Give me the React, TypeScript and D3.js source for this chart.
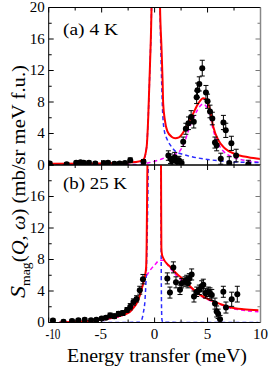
import React from "react";
import * as d3 from "d3";

// ---------- data ----------
type P = [number, number];
type D = [number, number, number];

const xTicks = [-10, -5, 0, 5, 10];
const yTicks = [0, 4, 8, 12, 16, 20];

// panel (a) 4 K data: [E, S, err]
const dataA: D[] = [
  [-9.9, 0.2, 0.2], [-8.3, 0.1, 0.2], [-7.4, 0.3, 0.2], [-7.0, 0.35, 0.2], [-6.7, 0.3, 0.2],
  [-6.2, 0.3, 0.2], [-5.6, 0.2, 0.2], [-4.8, 0.25, 0.2], [-4.4, 0.3, 0.2], [-3.8, 0.15, 0.2],
  [-3.3, 0.2, 0.2], [-2.8, 0.25, 0.2], [-2.3, 0.6, 0.3], [-1.05, 0.4, 0.3],
  [1.3, 1.2, 0.6], [1.5, 0.8, 0.6], [1.65, 0.5, 0.5], [1.9, 1.0, 0.6], [2.1, 0.4, 0.5],
  [2.3, 0.6, 0.5], [2.55, 0.25, 0.4], [2.7, 2.95, 0.6], [2.95, 4.6, 0.7], [3.2, 5.3, 0.8],
  [3.45, 6.1, 0.8], [3.7, 5.5, 0.8], [3.97, 8.6, 0.8], [4.05, 9.5, 0.9], [4.22, 10.3, 0.9],
  [4.5, 12.3, 1.0], [4.85, 9.2, 0.9], [5.0, 8.1, 0.9], [5.23, 6.8, 0.8], [5.45, 5.9, 0.8],
  [5.7, 2.85, 0.7], [5.86, 2.5, 0.7], [6.25, 0.8, 0.7], [6.5, 5.4, 0.9], [6.72, 4.4, 0.9],
  [7.05, 0.25, 0.8], [7.25, 2.75, 0.9], [7.7, 1.2, 0.8], [8.85, 0.1, 0.5],
];

// panel (a) fitted curves
const redA: P[] = [
  [-10, 0.15], [-5, 0.2], [-2.3, 0.34], [-1.5, 0.45], [-1.07, 0.65], [-0.75, 2.3], [-0.6, 6.1],
  [-0.44, 12.5], [-0.28, 21], [0.1, 100], [0.5, 21], [0.66, 14.6], [0.76, 10.4], [0.81, 7.8],
  [0.97, 5.7], [1.2, 4.3], [1.6, 3.6], [1.95, 3.4], [2.3, 3.5], [2.87, 4.5], [3.3, 5.6],
  [3.65, 6.56], [4.13, 7.83], [4.6, 8.47], [4.92, 8.25], [5.23, 7.0], [5.54, 4.86],
  [6.01, 3.17], [6.65, 2.1], [7.59, 1.4], [8.85, 0.98], [10, 0.76],
];
const blueA: P[] = [
  [-10, 0.1], [-5, 0.15], [-2.3, 0.3], [-1.5, 0.4], [-1.07, 0.6], [-0.75, 2.3], [-0.6, 6.1],
  [-0.44, 12.5], [-0.28, 21], [0.1, 100], [0.5, 21], [0.62, 13], [0.75, 7], [0.9, 4.5],
  [1.2, 3.2], [1.5, 2.5], [2.0, 1.7], [2.56, 1.4], [3.5, 1.05], [4.76, 0.75], [6.33, 0.5],
  [8.2, 0.35], [10, 0.3],
];
const magA: P[] = [
  [-10, 0.0], [-2, 0.02], [-1.16, 0.1], [-0.5, 0.3], [0.4, 0.63], [1.3, 1.1], [2.0, 1.4],
  [2.4, 1.8], [2.8, 2.8], [3.18, 4.3], [3.6, 5.8], [3.97, 6.8], [4.3, 7.5], [4.6, 7.75],
  [4.85, 7.5], [5.07, 7.0], [5.3, 5.8], [5.54, 4.44], [5.85, 3.2], [6.17, 2.32], [6.6, 1.6],
  [7.28, 1.05], [8.0, 0.75], [8.85, 0.5], [10, 0.34],
];

// panel (b) 25 K data
const dataB: D[] = [
  [-9.6, 0.25, 0.2], [-8.6, 0.1, 0.2], [-7.8, 0.2, 0.2], [-7.2, 0.3, 0.2], [-6.6, 0.35, 0.2],
  [-6.0, 0.3, 0.2], [-5.5, 0.35, 0.2], [-5.0, 0.5, 0.2], [-4.6, 0.6, 0.2], [-4.2, 0.9, 0.3],
  [-3.8, 0.8, 0.3], [-3.4, 1.1, 0.3], [-3.0, 1.2, 0.3], [-2.6, 1.6, 0.3], [-2.3, 2.0, 0.4],
  [-2.0, 2.6, 0.4], [-1.7, 3.0, 0.4], [-1.4, 4.1, 0.5], [-1.1, 5.5, 0.6],
  [1.2, 5.6, 0.7], [1.45, 3.8, 0.7], [1.77, 7.0, 0.7], [2.02, 5.1, 0.7], [2.4, 4.15, 0.6],
  [2.56, 5.0, 0.6], [2.87, 5.2, 0.6], [3.03, 5.4, 0.6], [3.15, 5.0, 0.6], [3.28, 5.6, 0.6],
  [3.5, 6.1, 0.7], [3.72, 3.3, 0.7], [3.98, 3.9, 0.6], [4.22, 4.15, 0.6], [4.45, 4.6, 0.7],
  [4.6, 4.8, 0.7], [4.8, 3.7, 0.6], [5.07, 3.9, 0.6], [5.23, 3.7, 0.7], [5.4, 3.5, 0.7],
  [5.7, 2.4, 0.7], [5.86, 1.4, 0.7], [6.0, 1.1, 0.6], [6.18, 0.4, 0.5], [6.49, 3.9, 0.7],
  [6.74, 1.9, 0.7], [7.28, 2.95, 0.9], [7.81, 3.6, 1.0],
];

// panel (b) fitted curves
const redB: P[] = [
  [-9, 0], [-8, 0.05], [-7, 0.12], [-6.1, 0.23], [-5, 0.38], [-4.2, 0.54], [-3.5, 0.75],
  [-2.95, 0.96], [-2.32, 1.38], [-2.0, 1.85], [-1.69, 2.45], [-1.38, 3.5], [-1.07, 5.0],
  [-0.9, 6.0], [-0.8, 7.0], [-0.75, 10], [-0.69, 18.6], [-0.65, 22], [0, 100], [0.6, 22],
  [0.62, 15], [0.64, 9.5], [0.7, 8.6], [0.81, 8.19], [1.45, 7.1], [2.09, 6.2], [2.87, 5.3],
  [3.34, 4.6], [4.29, 3.5], [5.23, 2.87], [6.18, 2.36], [7.12, 1.94], [8.38, 1.68], [9.8, 1.55],
];
const blueB: P[] = [
  [-9, 0], [-1.4, 0.02], [-1.2, 0.4], [-1.07, 1.2], [-0.9, 3], [-0.75, 8], [-0.65, 15],
  [-0.58, 22], [0, 100], [0.57, 22], [0.6, 15], [0.63, 6], [0.66, 1.5], [0.7, 0.3],
  [0.8, 0.02], [9.8, 0],
];
const magB: P[] = [
  [-9, 0], [-6, 0.2], [-4.2, 0.5], [-3, 0.9], [-2.32, 1.4], [-1.85, 2.2], [-1.38, 3.6],
  [-0.91, 5.5], [-0.44, 6.6], [0, 7.3], [0.5, 7.9], [0.8, 7.9], [1.45, 6.9], [2.4, 5.5],
  [3.34, 4.5], [4.29, 3.45], [5.23, 2.8], [6.18, 2.3], [7.12, 1.85], [8.38, 1.55], [9.8, 1.35],
];

// ---------- layout ----------
const W = 270, H = 368;
const X0 = 48.7, X1 = 260.5;
const panels = [
  { id: "a", top: 7.5, bottom: 165, label: "(a) 4 K", labelW: 55, labelDy: 27.5, data: dataA, red: redA, blue: blueA, mag: magA },
  { id: "b", top: 165, bottom: 322.5, label: "(b) 25 K", labelW: 64, labelDy: 24, data: dataB, red: redB, blue: blueB, mag: magB },
];
const FONT = "Liberation Serif, Times New Roman, Times, serif";

export default function App() {
  const x = d3.scaleLinear().domain([-10, 10]).range([X0, X1]);
  const xMinor = d3.range(-10, 10.01, 2.5);
  const yMinor = d3.range(0, 20.01, 2);

  return (
    <svg width={W} height={H} style={{ position: "absolute", left: 0, top: 0, background: "#fff" }}>
      <defs>
        {panels.map((p) => (
          <clipPath id={"clip" + p.id} key={p.id}>
            <rect x={X0} y={p.top} width={X1 - X0} height={p.bottom - p.top} />
          </clipPath>
        ))}
      </defs>
      {panels.map((p) => {
        const y = d3.scaleLinear().domain([0, 20]).range([p.bottom, p.top]);
        const line = d3
          .line<P>()
          .x((d) => x(d[0]))
          .y((d) => y(d[1]))
          .curve(d3.curveMonotoneX);
        return (
          <g key={p.id}>
            <g clipPath={`url(#clip${p.id})`}>
              <path d={line(p.mag) || ""} fill="none" stroke="#ff00ff" strokeWidth={1.5} strokeDasharray="4,3" />
              <path d={line(p.blue) || ""} fill="none" stroke="#2b2bff" strokeWidth={1.5} strokeDasharray="4,3" />
              <path d={line(p.red) || ""} fill="none" stroke="#ff0000" strokeWidth={2} />
              {p.data.map((d, i) => {
                const cx = x(d[0]);
                const yt = y(d[1] + d[2]);
                const yb = y(d[1] - d[2]);
                return (
                  <g key={i} stroke="#000" strokeWidth={1}>
                    <line x1={cx} x2={cx} y1={yt} y2={yb} />
                    <line x1={cx - 2.5} x2={cx + 2.5} y1={yt} y2={yt} />
                    <line x1={cx - 2.5} x2={cx + 2.5} y1={yb} y2={yb} />
                    <circle cx={cx} cy={y(d[1])} r={3} fill="#000" stroke="none" />
                  </g>
                );
              })}
            </g>
            {/* ticks */}
            <g stroke="#000" strokeWidth={1}>
              {xMinor.map((t) => {
                const major = t % 5 === 0;
                const len = major ? 5 : 3;
                return (
                  <g key={t}>
                    <line x1={x(t)} x2={x(t)} y1={p.bottom} y2={p.bottom - len} />
                    <line x1={x(t)} x2={x(t)} y1={p.top} y2={p.top + len} />
                  </g>
                );
              })}
              {yMinor.map((t) => {
                const major = t % 4 === 0;
                const len = major ? 5 : 3;
                return (
                  <g key={t}>
                    <line x1={X0} x2={X0 + len} y1={y(t)} y2={y(t)} />
                    <line x1={X1} x2={X1 - len} y1={y(t)} y2={y(t)} stroke="#777" />
                  </g>
                );
              })}
            </g>
            {/* frame */}
            <line x1={X0} x2={X1} y1={p.top} y2={p.top} stroke="#000" />
            <line x1={X0} x2={X1} y1={p.bottom} y2={p.bottom} stroke="#000" />
            <line x1={X0} x2={X0} y1={p.top} y2={p.bottom} stroke="#000" />
            <line x1={X1} x2={X1} y1={p.top} y2={p.bottom} stroke="#888" strokeWidth={1.5} />
            {/* y tick labels */}
            {yTicks
              .filter((t) => !(p.id === "b" && t === 20))
              .map((t) => (
                <text key={t} x={X0 - 4} y={y(t) + 4.5} textAnchor="end" fontFamily={FONT} fontSize={15}>
                  {t}
                </text>
              ))}
            <text
              x={63}
              y={p.top + p.labelDy}
              fontFamily={FONT}
              fontSize={17}
              textLength={p.labelW}
              lengthAdjust="spacingAndGlyphs"
            >
              {p.label}
            </text>
          </g>
        );
      })}
      {/* x tick labels */}
      {xTicks.map((t) =>
        t === -10 ? (
          <text key={t} x={45.5} y={338.5} fontFamily={FONT} fontSize={15} textLength={15} lengthAdjust="spacingAndGlyphs">
            {t}
          </text>
        ) : (
          <text key={t} x={x(t) + (t < 0 ? -1 : 0)} y={338.5} textAnchor="middle" fontFamily={FONT} fontSize={15}>
            {t}
          </text>
        )
      )}
      <text
        x={67}
        y={362}
        fontFamily={FONT}
        fontSize={18}
        textLength={180}
        lengthAdjust="spacingAndGlyphs"
      >
        Energy transfer (meV)
      </text>
      <text
        transform="translate(25,298) rotate(-90)"
        fontFamily={FONT}
        fontSize={18}
        textLength={233}
        lengthAdjust="spacingAndGlyphs"
      >
        <tspan fontStyle="italic" fontSize={21}>S</tspan>
        <tspan fontSize={12} dy={5}>mag</tspan>
        <tspan dy={-5}>(</tspan>
        <tspan fontStyle="italic">Q</tspan>
        <tspan>, </tspan>
        <tspan fontStyle="italic">ω</tspan>
        <tspan>) (mb/sr meV f.u.)</tspan>
      </text>
    </svg>
  );
}
